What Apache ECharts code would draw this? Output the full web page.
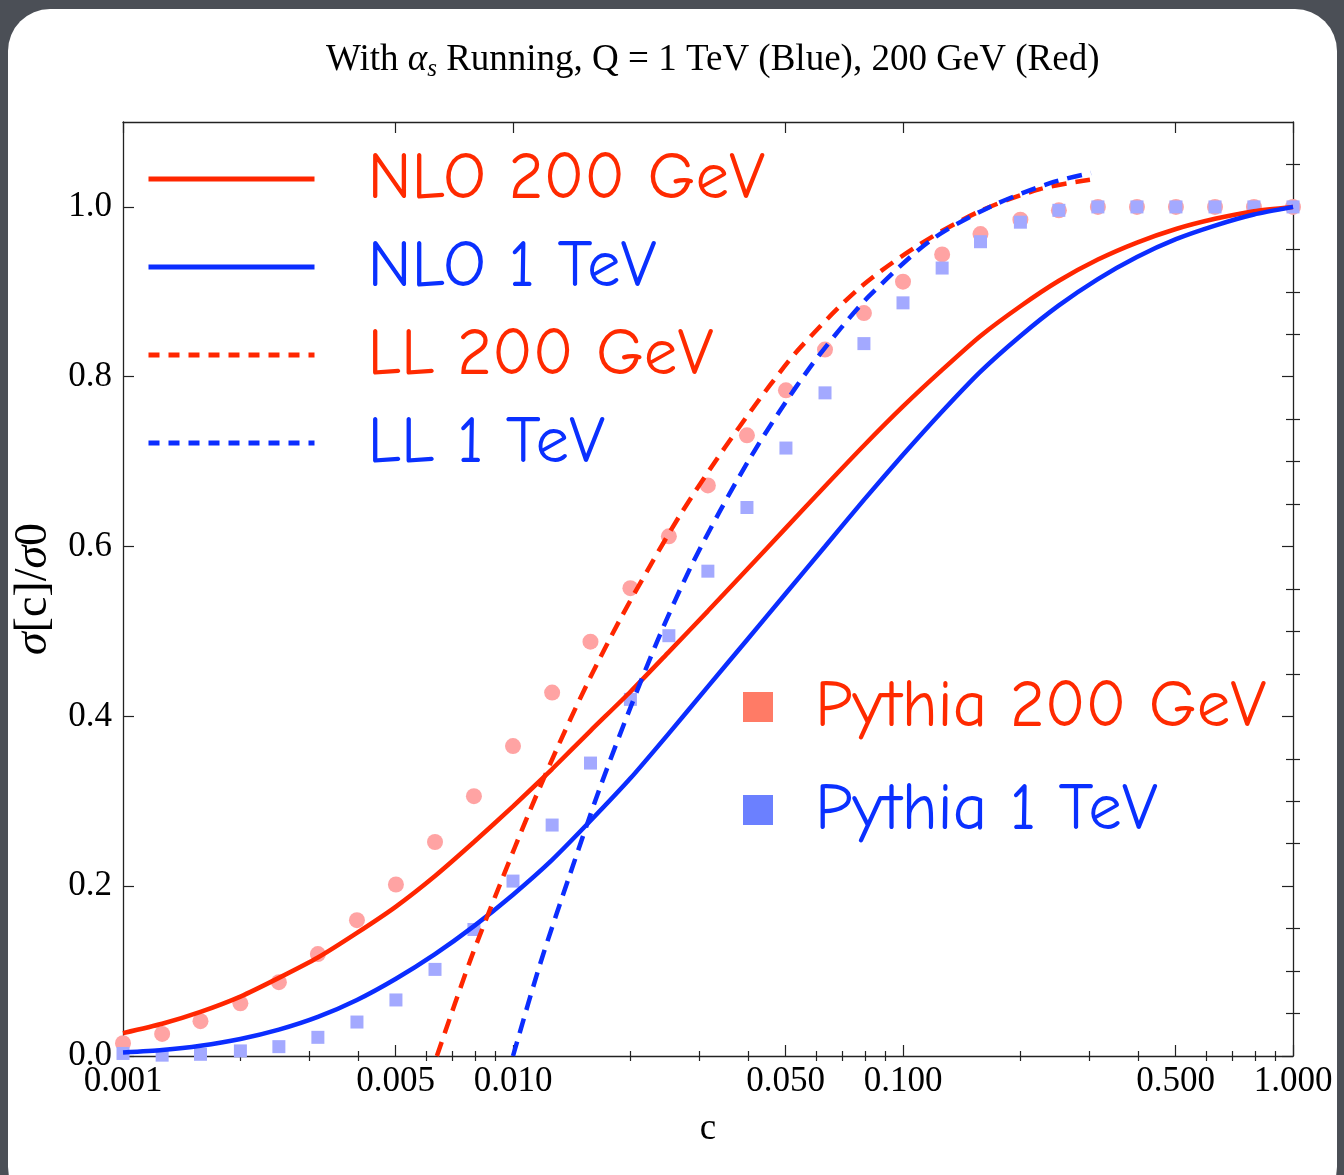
<!DOCTYPE html>
<html lang="en">
<head>
	<meta charset="UTF-8">
	<title>sigma[c]/sigma0</title>
	<style>
		body { margin: 0; background: #4b4f56; }
		#panel { position: absolute; left: 8px; top: 9px; width: 1329px; height: 1200px; background: #fff; border-radius: 42px; }
		#main { position: absolute; left: 0; top: 0; width: 1344px; height: 1175px; }
	</style>
</head>
<body>
	<div id="panel"></div>
	<div id="main"></div>
	<script src="https://cdn.jsdelivr.net/npm/echarts@6/dist/echarts.min.js"></script>
	<script>
		// c values of the Pythia points and NLO curves
		var cGrid = [0.001, 0.00126, 0.00158, 0.002, 0.00251, 0.00316, 0.00398, 0.00501, 0.00631, 0.00794,
			0.01, 0.0126, 0.0158, 0.02, 0.0251, 0.0316, 0.0398, 0.0501, 0.0631, 0.0794,
			0.1, 0.126, 0.158, 0.2, 0.251, 0.316, 0.398, 0.501, 0.631, 0.794, 1.0];

		var nlo200 = [0.027, 0.038, 0.052, 0.070, 0.092, 0.116, 0.145, 0.176, 0.212, 0.252,
			0.294, 0.338, 0.383, 0.429, 0.476, 0.524, 0.573, 0.622, 0.671, 0.719,
			0.765, 0.808, 0.848, 0.883, 0.913, 0.938, 0.958, 0.974, 0.986, 0.995, 1.0];
		var nlo1 = [0.004, 0.007, 0.012, 0.020, 0.031, 0.046, 0.066, 0.091, 0.120, 0.153,
			0.190, 0.231, 0.277, 0.327, 0.380, 0.435, 0.490, 0.545, 0.600, 0.655,
			0.708, 0.759, 0.806, 0.848, 0.884, 0.915, 0.941, 0.962, 0.978, 0.991, 1.0];
		var pythia200 = [0.015, 0.026, 0.041, 0.062, 0.087, 0.120, 0.160, 0.202, 0.252, 0.306,
			0.365, 0.428, 0.488, 0.551, 0.612, 0.672, 0.731, 0.784, 0.832, 0.875,
			0.912, 0.944, 0.968, 0.985, 0.996, 1.0, 1.0, 1.0, 1.0, 1.0, 1.0];
		var pythia1 = [0.003, 0.001, 0.002, 0.006, 0.011, 0.022, 0.040, 0.066, 0.102, 0.149,
			0.206, 0.272, 0.345, 0.420, 0.495, 0.571, 0.646, 0.716, 0.781, 0.839,
			0.887, 0.928, 0.959, 0.982, 0.996, 1.0, 1.0, 1.0, 1.0, 1.0, 1.0];

		// LL curves
		var ll200C = [0.00638, 0.00776, 0.00926, 0.01105, 0.0132, 0.01575, 0.01881, 0.02245, 0.02681,
			0.03199, 0.03821, 0.0456, 0.05444, 0.07757, 0.1105, 0.1575, 0.2245, 0.3016];
		var ll200Y = [0, 0.112, 0.202, 0.289, 0.370, 0.445, 0.514, 0.577, 0.637,
			0.691, 0.742, 0.790, 0.834, 0.905, 0.956, 0.995, 1.021, 1.032];
		var ll1C = [0.01, 0.01173, 0.0140, 0.01671, 0.01995, 0.02381, 0.02843, 0.03395, 0.04052,
			0.04837, 0.05774, 0.06895, 0.08229, 0.1173, 0.1671, 0.2381, 0.3034];
		var ll1Y = [0, 0.108, 0.214, 0.316, 0.409, 0.496, 0.574, 0.642, 0.704,
			0.760, 0.811, 0.856, 0.896, 0.960, 1.000, 1.028, 1.040];

		// ticks
		var xMajorTicks = [0.001, 0.005, 0.01, 0.05, 0.1, 0.5, 1];
		var xMinorTicks = [0.002, 0.003, 0.004, 0.006, 0.007, 0.008, 0.009,
			0.02, 0.03, 0.04, 0.06, 0.07, 0.08, 0.09,
			0.2, 0.3, 0.4, 0.6, 0.7, 0.8, 0.9];
		var yMajorTicks = [0, 0.2, 0.4, 0.6, 0.8, 1.0];
		var yMinorTicks = [0.05, 0.1, 0.15, 0.25, 0.3, 0.35, 0.45, 0.5, 0.55,
			0.65, 0.7, 0.75, 0.85, 0.9, 0.95, 1.05];

		var RED = '#ff2600', BLUE = '#0b2dff';
		var SERIF = '"Liberation Serif", "Times New Roman", serif';
		var HAND = '"Comic Sans MS", "Comic Neue", "DejaVu Sans", sans-serif';

		function lg(arr) { return arr.map(function (c) { return Math.log10(c); }); }
		function pairs(xs, ys) { return xs.map(function (c, i) { return [Math.log10(c), ys[i]]; }); }

		var frame = { show: true, onZero: false, lineStyle: { color: '#222', width: 1.3 } };

		function xAxis(pos, ticks, len, withLabel) {
			return {
				type: 'value', position: pos, min: -3, max: 0,
				axisLine: withLabel !== null ? frame : { show: false },
				splitLine: { show: false },
				axisTick: { inside: true, length: len, customValues: lg(ticks), lineStyle: { color: '#222', width: 1.2 } },
				axisLabel: withLabel ? {
					customValues: lg(ticks), margin: 8, color: '#000', fontFamily: SERIF, fontSize: 35,
					formatter: function (v) { return Math.pow(10, v).toFixed(3); }
				} : { show: false }
			};
		}
		function yAxis(pos, ticks, len, withLabel) {
			return {
				type: 'value', position: pos, min: 0, max: 1.1,
				axisLine: withLabel !== null ? frame : { show: false },
				splitLine: { show: false },
				axisTick: { inside: true, length: len, customValues: ticks, lineStyle: { color: '#222', width: 1.2 } },
				axisLabel: withLabel ? {
					customValues: ticks, margin: 11, color: '#000', fontFamily: SERIF, fontSize: 35,
					formatter: function (v) { return v.toFixed(1); }
				} : { show: false }
			};
		}

		var xs = [xAxis('bottom', xMajorTicks, 11, true), xAxis('bottom', xMinorTicks, 5, null),
			xAxis('top', xMajorTicks, 11, false), xAxis('top', xMinorTicks, 5, null)];
		xs[0].name = 'c';
		xs[0].nameLocation = 'middle';
		xs[0].nameGap = 55;
		xs[0].nameTextStyle = { fontFamily: SERIF, fontSize: 37, color: '#000' };

		var ys = [yAxis('left', yMajorTicks, 11, true), yAxis('left', yMinorTicks, 7, null),
			yAxis('right', yMajorTicks, 11, false), yAxis('right', yMinorTicks, 7, null)];
		ys[0].name = '{i|σ}[c]/{i|σ}0';
		ys[0].nameLocation = 'middle';
		ys[0].nameRotate = 90;
		ys[0].nameGap = 57;
		ys[0].nameTextStyle = { fontFamily: SERIF, fontSize: 46, color: '#000',
			rich: { i: { fontFamily: SERIF, fontSize: 46, fontStyle: 'italic', color: '#000' } } };

		var hideDot = { opacity: 0 };
		var legendDash = { type: [11, 9], width: 5 };

		var myChart = echarts.init(document.getElementById('main'));
		myChart.setOption({
			backgroundColor: 'transparent',
			animation: false,
			title: {
				text: '{n|With }{g|α}{sub|s}{n| Running, Q = 1 TeV (Blue), 200 GeV (Red)}',
				left: 321, top: 33,
				textStyle: {
					fontWeight: 'normal',
					rich: {
						n: { fontFamily: SERIF, fontSize: 37, fontWeight: 'normal', color: '#000', lineHeight: 44 },
						g: { fontFamily: SERIF, fontSize: 37, fontWeight: 'normal', fontStyle: 'italic', color: '#000', lineHeight: 44 },
						sub: { fontFamily: SERIF, fontSize: 25, fontWeight: 'normal', fontStyle: 'italic', color: '#000', lineHeight: 24, verticalAlign: 'bottom' }
					}
				}
			},
			grid: { left: 123, top: 122, width: 1170, height: 934 },
			xAxis: xs,
			yAxis: ys,
			legend: [{
				data: [
					{ name: 'NLO 200 GeV', itemStyle: hideDot, textStyle: { color: '#ff2a00' } },
					{ name: 'NLO 1 TeV', itemStyle: hideDot, textStyle: { color: '#0a30ff' } },
					{ name: 'LL 200 GeV', itemStyle: hideDot, lineStyle: legendDash, textStyle: { color: '#ff2a00' } },
					{ name: 'LL 1 TeV', itemStyle: hideDot, lineStyle: legendDash, textStyle: { color: '#0a30ff' } }
				],
				orient: 'vertical', left: 146, top: 144, padding: 0,
				itemWidth: 166, itemHeight: 20, itemGap: 18,
				selectedMode: false,
				lineStyle: { width: 5 },
				textStyle: { fontFamily: HAND, fontSize: 67, lineHeight: 70, padding: [0, 0, 0, 48] }
			}, {
				data: [
					{ name: 'Pythia 200 GeV', icon: 'rect', itemStyle: { color: '#ff7b66', opacity: 1 }, textStyle: { color: '#ff2a00' } },
					{ name: 'Pythia 1 TeV', icon: 'rect', itemStyle: { color: '#6b80ff', opacity: 1 }, textStyle: { color: '#0a30ff' } }
				],
				orient: 'vertical', left: 743, top: 672, padding: 0,
				itemWidth: 30, itemHeight: 30, itemGap: 33,
				selectedMode: false,
				textStyle: { fontFamily: HAND, fontSize: 67, lineHeight: 70, padding: [0, 0, 0, 37] }
			}],
			series: [
				{
					name: 'Pythia 200 GeV', type: 'scatter', symbol: 'circle', symbolSize: 16, z: 1,
					itemStyle: { color: '#ffa3a3', opacity: 1 }, data: pairs(cGrid, pythia200)
				},
				{
					name: 'Pythia 1 TeV', type: 'scatter', symbol: 'rect', symbolSize: 13, z: 1,
					itemStyle: { color: '#a3a9ff', opacity: 1 }, data: pairs(cGrid, pythia1)
				},
				{
					name: 'NLO 200 GeV', type: 'line', symbol: 'none', smooth: 0.2, z: 3,
					lineStyle: { color: RED, width: 4.5 }, itemStyle: { color: RED }, data: pairs(cGrid, nlo200)
				},
				{
					name: 'NLO 1 TeV', type: 'line', symbol: 'none', smooth: 0.2, z: 3,
					lineStyle: { color: BLUE, width: 4.5 }, itemStyle: { color: BLUE }, data: pairs(cGrid, nlo1)
				},
				{
					name: 'LL 200 GeV', type: 'line', symbol: 'none', smooth: 0.3, z: 3,
					lineStyle: { color: RED, width: 4.5, type: [15, 9] }, itemStyle: { color: RED }, data: pairs(ll200C, ll200Y)
				},
				{
					name: 'LL 1 TeV', type: 'line', symbol: 'none', smooth: 0.3, z: 3,
					lineStyle: { color: BLUE, width: 4.5, type: [15, 9] }, itemStyle: { color: BLUE }, data: pairs(ll1C, ll1Y)
				}
			]
		});
	</script>
</body>
</html>
